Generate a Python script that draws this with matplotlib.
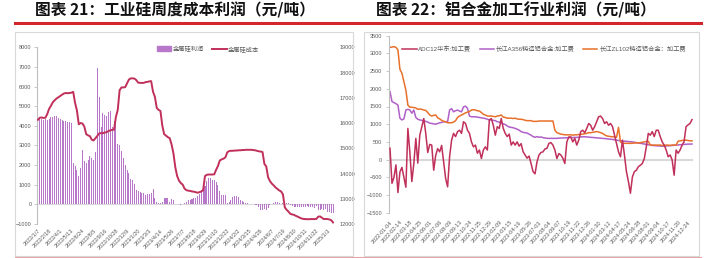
import numpy as np
import pandas as pd
import matplotlib
matplotlib.use('Agg')
import matplotlib.pyplot as plt
from matplotlib.lines import Line2D
from matplotlib.patches import Rectangle, Patch

plt.rcParams['font.family'] = ['Liberation Sans', 'Noto Sans CJK SC', 'DejaVu Sans']

# ---- 图表21 data: weekly, starting 2022/1/7 ----
si_profit = [4500, 4350, 4350, 4300, 4350, 4300, 4350, 4450, 4450, 4500,
             4500, 4400, 4350, 4300, 4250, 4250, 4200, 4200, 4150, 2100,
             1950, 1750, 1450, 1850, 2750, 2200, 2100, 2250, 2450, 2350,
             2250, 2650, 6950, 5450, 3950, 4650, 4550, 4500, 4700, 4750,
             3950, 4250, 4200, 3100, 3000, 2700, 2350, 2000, 1750, 1600,
             1300, 1250, 1050, 750, 700, 650, 600, 600, 500, 550,
             550, 560, 780, 300, 100, 80, 80, 120, 320, 320,
             300, 130, 260, 230, 40, 20, 17, -35, 17, 50,
             135, 200, 240, 270, 310, 340, 425, 530, 730, 830,
             935, 1200, 1340, 1325, 1240, 1240, 1155, 970, 700, 475,
             475, 475, 50, 135, 220, 390, 440, 440, 355, 220,
             150, 100, 85, 50, 35, 17, 0, -17, -50, -150,
             -290, -290, -255, -290, -200, -35, 17, 50, 100, 100,
             70, 17, 50, 85, 85, 50, -35, -70, -120, -150,
             -120, -120, -120, -120, -120, -85, -120, -150, -150, -200,
             -85, -290, -290, -255, -290, -255, -375, -375, -425, -425]
si_cost = [16130, 16210, 16220, 16200, 16210, 16350, 16560, 16680, 16820, 16900,
           16970, 17020, 17070, 17120, 17170, 17190, 17180, 17190, 17200, 17235,
           16800, 16500, 15950, 16000, 15980, 15860, 15560, 15510, 15480, 15340,
           15310, 15400, 15490, 15590, 15600, 15600, 15620, 15640, 15680, 15710,
           15730, 15740, 16240, 16520, 17300, 17410, 17410, 17420, 17570, 17720,
           17770, 17770, 17760, 17700, 17600, 17590, 17590, 17590, 17620, 17630,
           17650, 17660, 17240, 17040, 16600, 16520, 16480, 15900, 15560, 15500,
           15440, 15400, 15150, 14800, 14250, 13900, 13720, 13620, 13560, 13400,
           13340, 13320, 13310, 13290, 13280, 13260, 13240, 13260, 13290, 13340,
           13900, 13950, 13960, 13960, 13960, 13970, 14150, 14300, 14520, 14560,
           14590, 14640, 14840, 14890, 14900, 14900, 14910, 14910, 14920, 14920,
           14930, 14930, 14940, 14940, 14940, 14940, 14930, 14920, 14900, 14880,
           14870, 14850, 14380, 14280, 13850, 13700, 13600, 13530, 13450, 13390,
           13330, 13290, 13170, 12660, 12560, 12490, 12400, 12380, 12360, 12320,
           12290, 12250, 12220, 12200, 12195, 12190, 12190, 12195, 12195, 12195,
           12200, 12290, 12300, 12250, 12195, 12200, 12195, 12180, 12150, 12060]
si_dates = pd.date_range('2022-01-07', periods=len(si_profit), freq='7D')
si_labels = [f'{d.year}/{d.month}/{d.day}' for d in si_dates[::6]]

# ---- 图表22 data: sampled every ~5 trading days from 2022-01-04 ----
adc12 = [320, -670, -500, -150, -930, -350, -220, -500, -780, 880,
         200, -620, -110, 600, -100, 690, 930, 1160, 740, 200,
         430, 410, -300, 120, 310, 220, 400, -60, -530, -770,
         80, 550, 740, 650, 790, 830, 740, 1070, 1020, 830,
         740, 500, 360, 410, 180, 270, 30, 270, 360, 270,
         1120, 1160, 970, 690, 930, 880, 1160, 880, 740, 650,
         720, 410, 500, 410, 500, 380, 450, 220, 130, 40,
         100, -110, -340, -400, -60, 130, 200, 220, 300, 320,
         460, 480, 410, 270, 30, 170, 130, 40, -110, 500,
         640, 640, 500, 600, 410, 550, 790, 830, 760, 880,
         1020, 970, 830, 930, 1070, 1210, 1230, 1160, 1020, 1070,
         970, 1020, 930, 690, 460, 220, 80, 550, 130, -340,
         -620, -950, -490, -340, -300, -200, -160, -110, 30, 360,
         740, 690, 790, 650, 830, 830, 650, 500, 410, 270,
         80, 130, -10, -440, 270, 180, 270, 410, 500, 930,
         980, 1020, 1130]
a356 = [1920, 1640, 1610, 1580, 1540, 1170, 1120, 1150, 1400, 1420,
        1400, 1310, 1400, 1190, 1140, 1120, 1110, 1100, 1080, 1060,
        1030, 1020, 1010, 1000, 1020, 1040, 1050, 1070, 1070, 1075,
        1400, 1440, 1350, 1380, 1400, 1370, 1350, 1490, 1510, 1450,
        1230, 1210, 1210, 1210, 1200, 1190, 1180, 1170, 1160, 1140,
        1120, 1120, 1110, 1100, 1070, 1060, 1040, 1010, 990, 950,
        920, 910, 900, 880, 860, 830, 790, 770, 760, 750,
        720, 690, 650, 630, 650, 630, 640, 620, 610, 600,
        600, 600, 600, 600, 600, 605, 610, 610, 615, 617,
        620, 620, 625, 627, 627, 630, 640, 645, 645, 640,
        635, 630, 627, 620, 615, 610, 605, 600, 595, 590,
        580, 575, 570, 560, 550, 540, 530, 525, 520, 515,
        510, 505, 500, 490, 480, 470, 460, 450, 440, 430,
        420, 410, 400, 395, 390, 385, 382, 380, 382, 385,
        390, 395, 400, 405, 410, 415, 420, 425, 430, 435,
        438, 440, 440]
zl102 = [3170, 3180, 3190, 3170, 3100, 2550, 2440, 2200, 1960, 1540,
         1480, 1480, 1470, 1460, 1420, 1430, 1420, 1400, 1390, 1330,
         1260, 1230, 1250, 1260, 1180, 1150, 1110, 1080, 1070, 1040,
         1040, 1040, 1060, 1100, 1190, 1230, 1260, 1290, 1320, 1340,
         1360, 1400, 1410, 1400, 1380, 1370, 1330, 1280, 1260, 1230,
         1230, 1230, 1220, 1210, 1230, 1240, 1260, 1200, 1190, 1170,
         1170, 1170, 1160, 1170, 1150, 1140, 1140, 1130, 1110, 1100,
         1100, 1100, 1080, 1080, 1080, 1090, 1090, 1090, 1090, 1090,
         1090, 1090, 1090, 830, 760, 740, 720, 710, 700, 700,
         700, 700, 690, 700, 700, 710, 710, 720, 730, 740,
         760, 760, 770, 780, 790, 780, 760, 740, 700, 670,
         660, 650, 645, 640, 630, 910, 500, 460, 460, 460,
         460, 460, 460, 470, 470, 470, 480, 490, 500, 510,
         520, 410, 410, 410, 410, 410, 410, 400, 400, 410,
         410, 400, 410, 410, 410, 520, 530, 540, 550, 550,
         540, 530, 530]
al_labels = ['2022-01-04', '2022-02-14', '2022-03-18', '2022-04-25', '2022-06-01',
             '2022-07-06', '2022-08-09', '2022-09-13', '2022-10-24', '2022-11-25',
             '2022-12-29', '2023-02-09', '2023-03-15', '2023-04-19', '2023-05-26',
             '2023-07-03', '2023-08-04', '2023-09-07', '2023-10-19', '2023-11-22',
             '2023-12-26', '2024-01-30', '2024-03-12', '2024-04-17', '2024-05-24',
             '2024-06-28', '2024-08-01', '2024-09-04', '2024-10-17', '2024-11-20',
             '2024-12-24']

W, H = 722, 258
gray = '#595959'
axis_c = '#BFBFBF'
bar_c = '#B878CA'
cjk = ['Noto Sans CJK SC', 'DejaVu Sans']


def box(x0, y0, x1, y1):
    return [x0 / W, 1 - y1 / H, (x1 - x0) / W, (y1 - y0) / H]


fig = plt.figure(figsize=(W / 100, H / 100), dpi=100)

# frames, titles, red rules
for x0, x1 in [(15, 353), (364, 699)]:
    fig.add_artist(Rectangle((x0 / W, 1 - 255.5 / H), (x1 - x0) / W, (255.5 - 32) / H,
                             transform=fig.transFigure, fill=False, ec='#D9D9D9', lw=0.8))
fig.add_artist(Line2D([15 / W, 701 / W], [1 - 23.3 / H] * 2, color='#D2262C', lw=2.2))
fig.add_artist(Line2D([15 / W, 701 / W], [1 - 257.3 / H] * 2, color='#E7A3A5', lw=0.8))
fig.text(35 / W, 1 - 10.5 / H, '图表 21：工业硅周度成本利润（元/吨）', fontsize=11.3,
         fontweight='bold', family=cjk, va='center', ha='left', color='#111111')
fig.text(376 / W, 1 - 10.5 / H, '图表 22：铝合金加工行业利润（元/吨）', fontsize=11.3,
         fontweight='bold', family=cjk, va='center', ha='left', color='#111111')

# ---- left chart ----
ax1 = fig.add_axes(box(37, 47.3, 334, 224))
ax2 = ax1.twinx()
x1 = np.arange(len(si_profit))
ax1.axhline(0, color='#D9D9D9', lw=0.8, zorder=1)
ax1.bar(x1, si_profit, width=0.55, color=bar_c, zorder=2)
ax2.plot(x1, si_cost, color='#C0305A', lw=1.4)
ax1.set_xlim(-0.5, len(x1) - 0.5)
ax1.set_ylim(-1000, 8000)
ax1.set_yticks(range(-1000, 8001, 1000))
ax2.set_ylim(12000, 19000)
ax2.set_yticks(range(12000, 19001, 1000))
ax1.set_xticks(x1[::6])
ax1.set_xticklabels(si_labels, rotation=45, ha='right', va='top', rotation_mode='anchor')
ax1.tick_params(axis='x', length=0, pad=3, labelsize=4.0, labelcolor=gray)
ax1.tick_params(axis='y', length=2, width=0.6, color=axis_c, labelsize=4.0,
                labelcolor=gray, pad=2)
ax2.tick_params(axis='y', length=0, labelsize=4.0, labelcolor=gray, pad=4)
for s in ['top', 'right', 'bottom']:
    ax1.spines[s].set_visible(False)
for s in ax2.spines.values():
    s.set_visible(False)
ax1.spines['left'].set_color(axis_c)
ax1.spines['left'].set_linewidth(0.8)

h1 = [Patch(color=bar_c), Line2D([], [], color='#C0305A', lw=1.4)]
ax2.legend(h1, ['金属硅利润', '金属硅成本'], loc='center', ncol=2,
           bbox_to_anchor=(208 / W, 1 - 49 / H), bbox_transform=fig.transFigure,
           frameon=False, labelcolor=gray, handlelength=2.3,
           handleheight=0.9, handletextpad=0.2, columnspacing=1.4,
           prop={'family': cjk, 'size': 4.5})

# ---- right chart ----
ax3 = fig.add_axes(box(389, 35.7, 693, 212.7))
x3 = np.arange(len(adc12))
ax3.axhline(0, color='#D9D9D9', lw=1.5, zorder=1)
ax3.plot(x3, adc12, color='#C0305A', lw=1.1, label='ADC12华东:加工费', zorder=3)
ax3.plot(x3, a356, color='#B060C8', lw=1.1, label='长江A356铸造铝合金:加工费', zorder=2)
ax3.plot(x3, zl102, color='#E8702A', lw=1.1, label='长江ZL102铸造铝合金：加工费', zorder=2)
ax3.set_xlim(-0.5, len(x3) - 0.5)
ax3.set_ylim(-1500, 3500)
ax3.set_yticks(range(-1500, 3501, 500))
ax3.set_xticks(x3[::5])
ax3.set_xticklabels(al_labels, rotation=48, ha='right', va='top', rotation_mode='anchor')
ax3.tick_params(axis='x', length=0, pad=5, labelsize=4.0, labelcolor=gray)
ax3.tick_params(axis='y', length=2, width=0.6, color=axis_c, labelsize=4.0,
                labelcolor=gray, pad=3)
for s in ['top', 'right', 'bottom']:
    ax3.spines[s].set_visible(False)
ax3.spines['left'].set_color(axis_c)
ax3.spines['left'].set_linewidth(0.8)
ax3.legend(loc='center', ncol=3, bbox_to_anchor=(544 / W, 1 - 49 / H),
           bbox_transform=fig.transFigure, frameon=False, labelcolor=gray,
           handlelength=2.3, handletextpad=0.3, columnspacing=1.3,
           prop={'family': ['Liberation Sans', 'Noto Sans CJK SC'], 'size': 4.5})

fig.savefig('out.png', dpi=100)
